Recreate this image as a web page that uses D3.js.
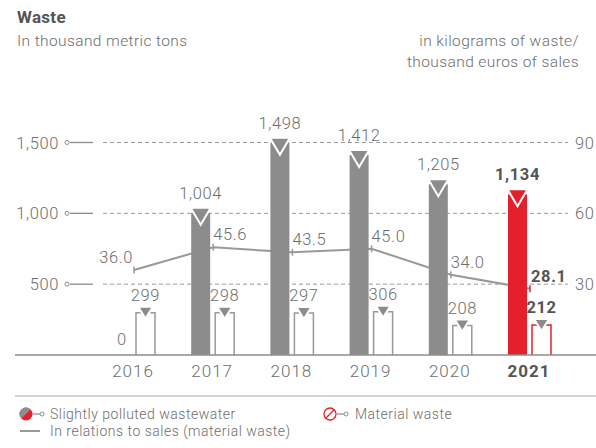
<!DOCTYPE html>
<html>
<head>
<meta charset="utf-8">
<script src="https://cdn.jsdelivr.net/npm/d3@7"></script>
<style>
  body { margin: 0; background: #fff; }
  svg text { font-family: Roboto, "Liberation Sans", sans-serif; }
</style>
</head>
<body>
<div id="chart"></div>
<script>
// chart data
const years = ["2016", "2017", "2018", "2019", "2020", "2021"];
const wastewater = [0, 1004, 1498, 1412, 1205, 1134];
const materialWaste = [299, 298, 297, 306, 208, 212];
const perSales = [36.0, 45.6, 43.5, 45.0, 34.0, 28.1];
const leftTicks = [500, 1000, 1500];
const rightTicks = [30, 60, 90];

const width = 596, height = 448;
const gray = "#8c8c8c", red = "#e4202c", textGray = "#6e6e6e", darkText = "#555";

const svg = d3.select("#chart").append("svg")
    .attr("width", width)
    .attr("height", height);

// scales
const x = d3.scalePoint().domain(years).range([133, 529]);
const y = d3.scaleLinear().domain([0, 1500]).range([355, 142.5]);
const y2 = d3.scaleLinear().domain([0, 90]).range([355, 142.5]);
const fmt = d3.format(",");

// title block
svg.append("text").attr("x", 17).attr("y", 23)
    .attr("font-size", 17).attr("font-weight", 700).attr("fill", darkText)
    .attr("letter-spacing", 0.3)
    .text("Waste");
svg.append("text").attr("x", 17).attr("y", 46)
    .attr("font-size", 15.5).attr("font-weight", 300).attr("fill", textGray)
    .attr("letter-spacing", 0.4)
    .text("In thousand metric tons");
svg.append("text").attr("x", 579).attr("y", 46).attr("text-anchor", "end")
    .attr("font-size", 15.5).attr("font-weight", 300).attr("fill", textGray)
    .attr("letter-spacing", 0.4)
    .text("in kilograms of waste/");
svg.append("text").attr("x", 579).attr("y", 67).attr("text-anchor", "end")
    .attr("font-size", 15.5).attr("font-weight", 300).attr("fill", textGray)
    .attr("letter-spacing", 0.4)
    .text("thousand euros of sales");

// grid lines + left axis markers
const grid = svg.append("g");
leftTicks.forEach(function (t, i) {
    let yy = y(t);
    grid.append("line").attr("x1", 103).attr("x2", 568).attr("y1", yy).attr("y2", yy)
        .attr("stroke", "#999").attr("stroke-width", 1).attr("stroke-dasharray", "4,3");
    grid.append("line").attr("x1", 70).attr("x2", 93).attr("y1", yy).attr("y2", yy)
        .attr("stroke", gray).attr("stroke-width", 1.3);
    grid.append("circle").attr("cx", 67).attr("cy", yy).attr("r", 2)
        .attr("fill", "#fff").attr("stroke", gray).attr("stroke-width", 1);
    grid.append("text").attr("x", 59).attr("y", yy + 6).attr("text-anchor", "end")
        .attr("font-size", 16.5).attr("font-weight", 300).attr("fill", textGray)
        .attr("letter-spacing", 0.6)
        .text(fmt(t));
    grid.append("text").attr("x", 575).attr("y", y2(rightTicks[i]) + 6)
        .attr("font-size", 16.5).attr("font-weight", 300).attr("fill", textGray)
        .attr("letter-spacing", 0.6)
        .text(rightTicks[i]);
});

// line: in relation to sales (drawn under the bars)
const linePts = years.map(function (d, i) { return [x(d) + 1, y2(perSales[i])]; });
svg.append("path")
    .attr("d", d3.line()(linePts))
    .attr("fill", "none").attr("stroke", "#999").attr("stroke-width", 2);

svg.selectAll(".ltick").data(linePts).enter().append("line")
    .attr("x1", d => d[0]).attr("x2", d => d[0])
    .attr("y1", d => d[1] - 3.5).attr("y2", d => d[1] + 3.5)
    .attr("stroke", (d, i) => i === 5 ? red : "#999").attr("stroke-width", 1.5);

// wastewater bars
const bw = 19;
years.forEach(function (yr, i) {
    let c = x(yr), v = wastewater[i], last = i === years.length - 1;
    let col = last ? red : gray;
    let x0 = c - 21;
    if (v > 0) {
        svg.append("rect").attr("x", x0).attr("y", y(v))
            .attr("width", bw).attr("height", y(0) - y(v)).attr("fill", col);
        let t = y(v) - 5;
        svg.append("path")
            .attr("d", "M" + (x0 - 0.5) + "," + t + "L" + (x0 + bw + 0.5) + "," + t + "L" + (x0 + bw / 2) + "," + (t + 17) + "Z")
            .attr("fill", col).attr("stroke", "#fff").attr("stroke-width", 2);
        svg.append("text").attr("x", x0 + bw / 2).attr("y", y(v) - 14).attr("text-anchor", "middle")
            .attr("font-size", 16.5).attr("font-weight", last ? 700 : 300)
            .attr("letter-spacing", 0.6)
            .attr("fill", last ? darkText : textGray).text(fmt(v));
    } else {
        svg.append("text").attr("x", x0 + bw / 2).attr("y", 345).attr("text-anchor", "middle")
            .attr("font-size", 16.5).attr("font-weight", 300).attr("fill", textGray).text(fmt(v));
    }
});

// material waste bars (outlined)
years.forEach(function (yr, i) {
    let c = x(yr), v = materialWaste[i], last = i === years.length - 1;
    let x0 = c + 3;
    svg.append("path")
        .attr("d", "M" + x0 + "," + y(0) + "V" + y(v) + "H" + (x0 + bw) + "V" + y(0))
        .attr("fill", "none").attr("stroke", last ? red : "#999").attr("stroke-width", 1.5);
    let t = y(v) - 6;
    svg.append("path")
        .attr("d", "M" + (x0 + 2) + "," + t + "L" + (x0 + bw - 2) + "," + t + "L" + (x0 + bw / 2) + "," + (t + 12) + "Z")
        .attr("fill", gray).attr("stroke", "#fff").attr("stroke-width", 2);
    svg.append("text").attr("x", x0 + bw / 2).attr("y", y(v) - 12).attr("text-anchor", "middle")
        .attr("font-size", 16.5).attr("font-weight", last ? 700 : 300)
        .attr("letter-spacing", 0.6)
        .attr("fill", last ? darkText : textGray).text(v);
});

// line value labels
linePts.forEach(function (p, i) {
    let last = i === years.length - 1;
    svg.append("text")
        .attr("x", i === 0 ? p[0] - 1 : p[0] + (last ? 1 : 0))
        .attr("y", p[1] - 7)
        .attr("text-anchor", i === 0 ? "end" : "start")
        .attr("font-size", 16.5).attr("font-weight", last ? 700 : 300)
        .attr("letter-spacing", 0.6)
        .attr("fill", last ? darkText : textGray)
        .text(d3.format(".1f")(perSales[i]));
});

// baseline + year labels
svg.append("line").attr("x1", 15).attr("x2", width).attr("y1", 355).attr("y2", 355)
    .attr("stroke", gray).attr("stroke-width", 1.5);
svg.selectAll(".year").data(years).enter().append("text")
    .attr("x", d => x(d)).attr("y", 377).attr("text-anchor", "middle")
    .attr("font-size", 17).attr("font-weight", (d, i) => i === 5 ? 700 : 300)
    .attr("letter-spacing", 1)
    .attr("fill", (d, i) => i === 5 ? darkText : textGray)
    .text(d => d);

// separator
svg.append("line").attr("x1", 15).attr("x2", width).attr("y1", 396).attr("y2", 396)
    .attr("stroke", "#aaa").attr("stroke-width", 1.2);

// legend
const lg = svg.append("g");
// wastewater icon: half gray / half red circle
const cx1 = 26, cy1 = 414, r1 = 6.5;
lg.append("circle").attr("cx", cx1).attr("cy", cy1).attr("r", r1).attr("fill", red);
lg.append("path")
    .attr("d", "M" + (cx1 - r1 * Math.SQRT1_2) + "," + (cy1 + r1 * Math.SQRT1_2) +
        "A" + r1 + "," + r1 + " 0 0 1 " + (cx1 + r1 * Math.SQRT1_2) + "," + (cy1 - r1 * Math.SQRT1_2) + "Z")
    .attr("fill", gray);
lg.append("line").attr("x1", cx1 + r1).attr("x2", 40).attr("y1", cy1).attr("y2", cy1)
    .attr("stroke", gray).attr("stroke-width", 1.2);
lg.append("circle").attr("cx", 42).attr("cy", cy1).attr("r", 2)
    .attr("fill", "#fff").attr("stroke", gray).attr("stroke-width", 1);
lg.append("text").attr("x", 50).attr("y", cy1 + 5)
    .attr("font-size", 14).attr("font-weight", 300).attr("fill", textGray)
    .attr("letter-spacing", 0.5)
    .text("Slightly polluted wastewater");

// material waste icon: outlined circle with slash
const cx2 = 330;
lg.append("circle").attr("cx", cx2).attr("cy", cy1).attr("r", r1 - 0.5)
    .attr("fill", "#fff").attr("stroke", red).attr("stroke-width", 1.3);
lg.append("line")
    .attr("x1", cx2 - 4.5).attr("y1", cy1 + 4.5).attr("x2", cx2 + 4.5).attr("y2", cy1 - 4.5)
    .attr("stroke", red).attr("stroke-width", 1.3);
lg.append("line").attr("x1", cx2 + r1).attr("x2", cx2 + 14).attr("y1", cy1).attr("y2", cy1)
    .attr("stroke", gray).attr("stroke-width", 1.2);
lg.append("circle").attr("cx", cx2 + 16).attr("cy", cy1).attr("r", 2)
    .attr("fill", "#fff").attr("stroke", gray).attr("stroke-width", 1);
lg.append("text").attr("x", 355).attr("y", cy1 + 5)
    .attr("font-size", 14).attr("font-weight", 300).attr("fill", textGray)
    .attr("letter-spacing", 0.5)
    .text("Material waste");

// line legend
lg.append("line").attr("x1", 20).attr("x2", 40).attr("y1", 431).attr("y2", 431)
    .attr("stroke", "#999").attr("stroke-width", 2);
lg.append("text").attr("x", 50).attr("y", 436)
    .attr("font-size", 14).attr("font-weight", 300).attr("fill", textGray)
    .attr("letter-spacing", 0.5)
    .text("In relations to sales (material waste)");
</script>
</body>
</html>
